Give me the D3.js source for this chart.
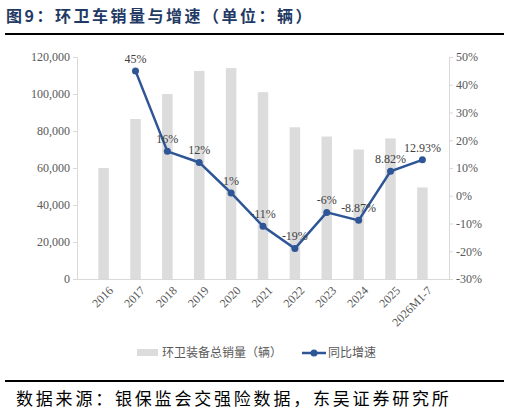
<!DOCTYPE html>
<html><head><meta charset="utf-8">
<script src="https://cdn.jsdelivr.net/npm/d3@7"></script>
<style>body{margin:0;background:#fff}</style>
</head><body>
<svg id="chart" width="509" height="413"></svg>
<script>
const categories = ['2016','2017','2018','2019','2020','2021','2022','2023','2024','2025','2026M1-7'];
const sales = [60000, 86500, 100000, 112500, 114000, 101000, 82000, 77000, 70000, 76000, 49500];
const growth = [null, 45, 16, 12, 1, -11, -19, -6, -8.87, 8.82, 12.93];
const growthLabels = ['', '45%', '16%', '12%', '1%', '-11%', '-19%', '-6%', '-8.87%', '8.82%', '12.93%'];
const leftTicks = [0, 20000, 40000, 60000, 80000, 100000, 120000];
const rightTicks = [-30, -20, -10, 0, 10, 20, 30, 40, 50];

const svg = d3.select('#chart');
const margin = { top: 57, right: 60, bottom: 134, left: 77 };
const W = 509, H = 413;
const serif = '"Liberation Serif","Times New Roman",serif';
const cjk = '"Noto Sans CJK SC",sans-serif';

svg.append('text').attr('x', 6).attr('y', 22).attr('fill', '#1f3a64')
  .attr('font-family', cjk).attr('font-weight', 'bold').attr('font-size', 16).attr('letter-spacing', 2.5)
  .text('图9：环卫车销量与增速（单位：辆）');
svg.append('line').attr('x1', 5).attr('x2', 504).attr('y1', 34).attr('y2', 34).attr('stroke', '#000').attr('stroke-width', 2);
svg.append('line').attr('x1', 5).attr('x2', 504).attr('y1', 381).attr('y2', 381).attr('stroke', '#000').attr('stroke-width', 2);
svg.append('text').attr('x', 16).attr('y', 405).attr('fill', '#000')
  .attr('font-family', cjk).attr('font-size', 17).attr('letter-spacing', 2.8)
  .text('数据来源：银保监会交强险数据，东吴证券研究所');

const x = d3.scaleBand().domain(categories).range([margin.left, W - margin.right]).padding(0.67);
const y = d3.scaleLinear().domain([0, 120000]).range([H - margin.bottom, margin.top]);
const y2 = d3.scaleLinear().domain([-30, 50]).range([H - margin.bottom, margin.top]);

const axL = svg.append('g').attr('transform', `translate(${margin.left},0)`)
  .call(d3.axisLeft(y).tickValues(leftTicks).tickFormat(d3.format(',')).tickSize(4));
const axR = svg.append('g').attr('transform', `translate(${W - margin.right},0)`)
  .call(d3.axisRight(y2).tickValues(rightTicks).tickFormat(d => d + '%').tickSize(4));
[axL, axR].forEach(a => {
  a.selectAll('path,line').attr('stroke', '#d9d9d9');
  a.selectAll('text').attr('fill', '#595959').attr('font-family', serif).attr('font-size', 12);
});

const axB = svg.append('g').attr('transform', `translate(0,${H - margin.bottom})`)
  .call(d3.axisBottom(x).tickSize(0));
axB.select('.domain').attr('stroke', '#d9d9d9');
axB.selectAll('text').attr('fill', '#595959').attr('font-family', serif).attr('font-size', 12)
  .attr('text-anchor', 'end').attr('transform', 'translate(4,6) rotate(-45)').attr('dy', '0.5em');

svg.selectAll('.bar').data(sales).enter().append('rect')
  .attr('x', (d, i) => x(categories[i])).attr('width', x.bandwidth())
  .attr('y', d => y(d)).attr('height', d => y(0) - y(d)).attr('fill', '#dcdcdc');

const pts = growth.map((g, i) => ({ c: categories[i], g, l: growthLabels[i] })).filter(d => d.g !== null);
const cx = d => x(d.c) + x.bandwidth() / 2;
svg.append('path').datum(pts)
  .attr('d', d3.line().x(cx).y(d => y2(d.g)))
  .attr('fill', 'none').attr('stroke', '#2e5596').attr('stroke-width', 2.5);
svg.selectAll('.pt').data(pts).enter().append('circle')
  .attr('cx', cx).attr('cy', d => y2(d.g)).attr('r', 3.5).attr('fill', '#2e5596');
svg.selectAll('.lbl').data(pts).enter().append('text')
  .attr('x', cx).attr('y', d => y2(d.g) - 8).attr('text-anchor', 'middle')
  .attr('fill', '#404040').attr('font-family', serif).attr('font-size', 12)
  .text(d => d.l);

const lg = svg.append('g').attr('transform', 'translate(0,353)');
lg.append('rect').attr('x', 137).attr('y', -4).attr('width', 21).attr('height', 7).attr('fill', '#dcdcdc');
lg.append('text').attr('x', 162).attr('y', 4).attr('font-family', cjk).attr('font-size', 12).attr('fill', '#595959').text('环卫装备总销量（辆）');
lg.append('line').attr('x1', 302).attr('x2', 326).attr('y1', 0).attr('y2', 0).attr('stroke', '#2e5596').attr('stroke-width', 2.5);
lg.append('circle').attr('cx', 314).attr('cy', 0).attr('r', 3.5).attr('fill', '#2e5596');
lg.append('text').attr('x', 328).attr('y', 4).attr('font-family', cjk).attr('font-size', 12).attr('fill', '#595959').text('同比增速');
</script>
</body></html>
